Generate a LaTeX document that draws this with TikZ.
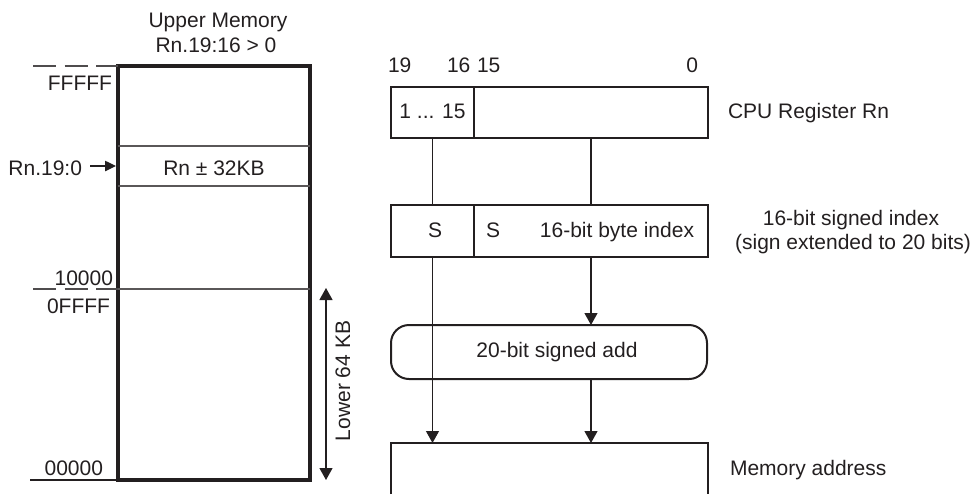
\documentclass[tikz,border=0pt]{standalone}
\usepackage{fontspec}
\setmainfont{Liberation Sans}
\usetikzlibrary{arrows.meta,calc}
\definecolor{ink}{HTML}{231F20}
\begin{document}
\begin{tikzpicture}[x=0.5pt,y=-0.5pt,
  every node/.style={font=\fontsize{10.5pt}{13pt}\selectfont, text=ink, inner sep=0pt, outer sep=0pt},
  lbl/.style={anchor=base},
  membox/.style={draw=ink, line width=1.65pt, minimum width=96pt, minimum height=207pt},
  regbox/.style={draw=ink, line width=1.15pt, minimum height=25.5pt},
  pill/.style={draw=ink, line width=1pt, rounded corners=9pt, minimum width=158pt, minimum height=27pt},
  sep/.style={draw=ink!75, line width=0.55pt},
  conn/.style={draw=ink, line width=0.6pt},
  arr/.style={conn, -{Triangle[length=6pt,width=6.5pt]}},
  darr/.style={conn, {Triangle[length=6pt,width=6.5pt]}-{Triangle[length=6pt,width=6.5pt]}},
  sarr/.style={conn, -{Triangle[length=5.5pt,width=5.2pt]}},
  dsh/.style={draw=ink!80, line width=0.55pt, dash pattern=on 11.5pt off 4.3pt}
]
\useasboundingbox (0,0) rectangle (975,494);

% ---------- memory map ----------
\node[lbl] (um1) at (218,27) {Upper Memory};
\node[lbl] (um2) at (216,52) {Rn.19:16 > 0};
\node[membox] (mem) at (214,273) {};
\draw[sep] (118,146) -- (310,146);
\draw[sep] (118,186) -- (310,186);
\draw[sep] (118,289) -- (310,289);
\node[lbl] (win) at (214,175) {Rn ± 32KB};

\draw[dsh] (33,66) -- (mem.north west);
\draw[dsh] (33,289) -- (118,289);
\draw[conn] (30,480) -- (mem.south west);

\node[anchor=base east] (aF) at (112,90) {FFFFF};
\node[anchor=base east] (a1) at (113,285) {10000};
\node[anchor=base east] (a0F) at (110,313) {0FFFF};
\node[anchor=base east] (a0) at (103,475) {00000};

\node[anchor=base east] (rnl) at (82,175) {Rn.19:0};
\coordinate (rntip) at (116,166);
\draw[sarr] (90,166) -- (rntip);

\coordinate (lt) at (326,288);
\coordinate (lb) at (326,480);
\draw[darr] (lt) -- (lb);
\node[rotate=90] (low) at (343,381) {Lower 64 KB};

% ---------- register / address path ----------
\node[lbl, anchor=base west] (b19) at (388,72) {19};
\node[lbl, anchor=base west] (b16) at (447,72) {16};
\node[lbl, anchor=base west] (b15) at (477,72) {15};
\node[lbl, anchor=base east] (b0) at (698,72) {0};

\node[regbox, minimum width=41.5pt] (rhi) at (432.5,112.5) {};
\node[regbox, minimum width=117pt] (rlo) at (591,112.5) {};
\node[lbl] (rtxt) at (432.5,118) {1 ... 15};

\node[regbox, minimum width=41.5pt, minimum height=26pt] (ihi) at (432.5,231) {};
\node[regbox, minimum width=117pt, minimum height=26pt] (ilo) at (591,231) {};
\node[lbl] (s1) at (435,237) {S};
\node[lbl] (s2) at (493,237) {S};
\node[lbl] (itxt) at (617,237) {16-bit byte index};

\node[pill] (add) at (549,352) {};
\node[lbl] (addt) at (557,357) {20-bit signed add};

\node[minimum width=158.5pt, minimum height=25.5pt, anchor=north] (maddr) at (549.5,443) {};
\draw[ink, line width=1.15pt] (maddr.south west) -- (maddr.north west) -- (maddr.north east) -- (maddr.south east);

\draw[conn] (rhi.south) -- (ihi.north);
\draw[conn] (rlo.south) -- (ilo.north);
\draw[arr] (ilo.south) -- (ilo.south |- add.north);
\draw[arr] (ihi.south) -- (ihi.south |- maddr.north);
\draw[arr] (add.south -| ilo.south) -- (ilo.south |- maddr.north);

% ---------- right captions ----------
\node[lbl, anchor=base west] (c1) at (728,118) {CPU Register Rn};
\node[lbl] (c2a) at (851,225) {16-bit signed index};
\node[lbl] (c2b) at (853,249) {(sign extended to 20 bits)};
\node[lbl, anchor=base west] (c3) at (730,475) {Memory address};
\end{tikzpicture}
\end{document}
